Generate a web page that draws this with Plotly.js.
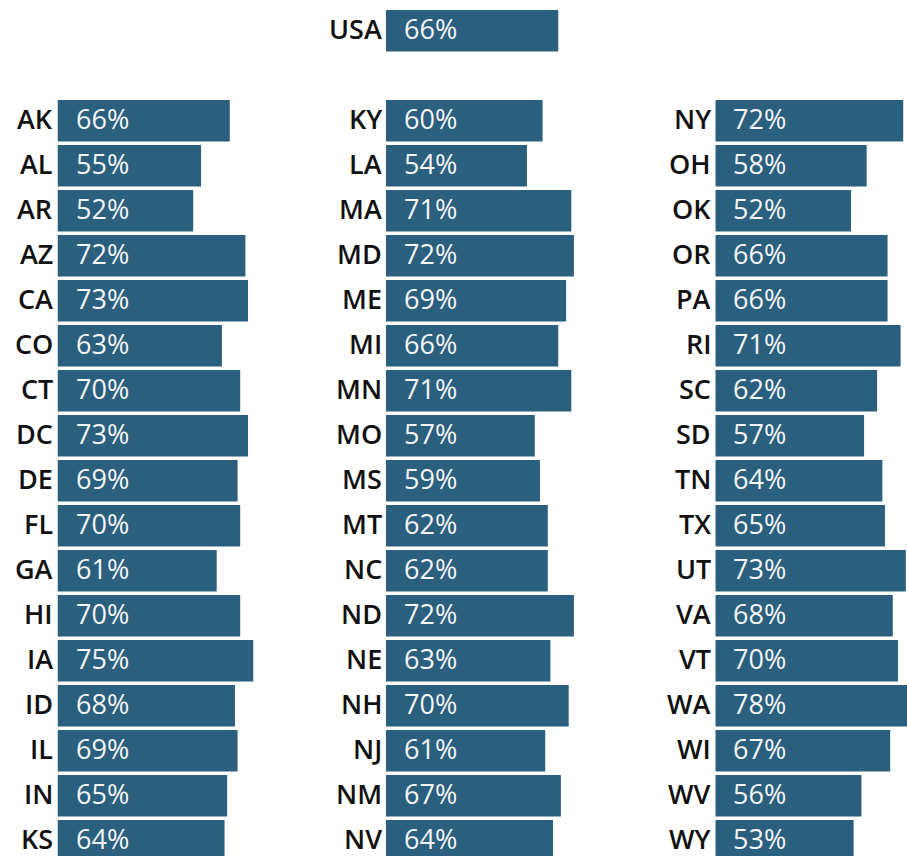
<!DOCTYPE html>
<html>
<head>
<meta charset="utf-8">
<script src="https://cdn.plot.ly/plotly-3.0.1.min.js"></script>
<style>html,body{margin:0;padding:0;background:#fff;}#chart{width:907px;height:856px;}</style>
</head>
<body>
<div id="chart"></div>
<script>
// ---- data ----
const usaLabel = ["USA"];
const usaValues = [66];

const col1States = ["AK","AL","AR","AZ","CA","CO","CT","DC","DE","FL","GA","HI","IA","ID","IL","IN","KS"];
const col1Values = [66,55,52,72,73,63,70,73,69,70,61,70,75,68,69,65,64];

const col2States = ["KY","LA","MA","MD","ME","MI","MN","MO","MS","MT","NC","ND","NE","NH","NJ","NM","NV"];
const col2Values = [60,54,71,72,69,66,71,57,59,62,62,72,63,70,61,67,64];

const col3States = ["NY","OH","OK","OR","PA","RI","SC","SD","TN","TX","UT","VA","VT","WA","WI","WV","WY"];
const col3Values = [72,58,52,66,66,71,62,57,64,65,73,68,70,78,67,56,53];

// ---- styling ----
const W = 907, H = 856;
const barColor = "#2a5f7e";
const labelFont = {family: "Open Sans, sans-serif", size: 27, color: "#111111", weight: 600};
const pctFont = {family: "Open Sans, sans-serif", size: 27, color: "#f6f6f6"};
const pxPerUnit = 2.61;
const textLift = 2;

const cols = [
  {states: usaLabel, values: usaValues, xa: "x", ya: "y", left: 386},
  {states: col1States, values: col1Values, xa: "x2", ya: "y2", left: 57.5},
  {states: col2States, values: col2Values, xa: "x3", ya: "y3", left: 386},
  {states: col3States, values: col3Values, xa: "x4", ya: "y4", left: 715.3}
];

const traces = cols.map(c => ({
  type: "bar",
  orientation: "h",
  x: c.values,
  y: c.states,
  xaxis: c.xa,
  yaxis: c.ya,
  marker: {color: barColor, line: {width: 0}},
  hoverinfo: "y+x",
  showlegend: false
}));

const annotations = [];
cols.forEach(c => {
  c.states.forEach((s, i) => {
    // value label inside the bar
    annotations.push({
      xref: c.xa, yref: c.ya,
      x: 0, y: s,
      text: c.values[i] + "%",
      showarrow: false,
      xanchor: "left", yanchor: "middle",
      xshift: 17, yshift: textLift,
      borderpad: 0,
      font: pctFont
    });
    // state label to the left of the bar
    annotations.push({
      xref: c.xa, yref: c.ya,
      x: 0, y: s,
      text: s,
      showarrow: false,
      xanchor: "right", yanchor: "middle",
      xshift: -3.5, yshift: textLift,
      borderpad: 0,
      font: labelFont
    });
  });
});

function xAxis(left) {
  const rightPx = Math.min(W, left + 100 * pxPerUnit);
  return {
    domain: [left / W, rightPx / W],
    range: [0, (rightPx - left) / pxPerUnit],
    showgrid: false, zeroline: false, showline: false,
    showticklabels: false, ticks: "", fixedrange: true
  };
}

const stepPx = 45;
const firstCenter = 120.8;
const bottomVal = 16 + (H - (firstCenter + 16 * stepPx)) / stepPx;
const topPx = firstCenter - 0.5 * stepPx;
const gridDomain = [0, (H - topPx) / H];

function yAxis(anchor, range, domain) {
  return {
    anchor: anchor,
    domain: domain,
    range: range,
    type: "category",
    showgrid: false, zeroline: false, showline: false,
    ticks: "",
    showticklabels: false,
    fixedrange: true
  };
}

const usaCenter = 30.8;
const usaDomain = [1 - (usaCenter + stepPx / 2) / H, 1 - (usaCenter - stepPx / 2) / H];

const layout = {
  width: W, height: H,
  margin: {l: 0, r: 0, t: 0, b: 0, pad: 0},
  paper_bgcolor: "#ffffff",
  plot_bgcolor: "rgba(0,0,0,0)",
  bargap: 0.075,
  showlegend: false,
  xaxis: Object.assign(xAxis(cols[0].left), {anchor: "y"}),
  yaxis: yAxis("x", [0.5, -0.5], usaDomain),
  xaxis2: Object.assign(xAxis(cols[1].left), {anchor: "y2"}),
  yaxis2: yAxis("x2", [bottomVal, -0.5], gridDomain),
  xaxis3: Object.assign(xAxis(cols[2].left), {anchor: "y3"}),
  yaxis3: yAxis("x3", [bottomVal, -0.5], gridDomain),
  xaxis4: Object.assign(xAxis(cols[3].left), {anchor: "y4"}),
  yaxis4: yAxis("x4", [bottomVal, -0.5], gridDomain),
  annotations: annotations
};

Plotly.newPlot("chart", traces, layout, {displayModeBar: false, staticPlot: true});
</script>
</body>
</html>
